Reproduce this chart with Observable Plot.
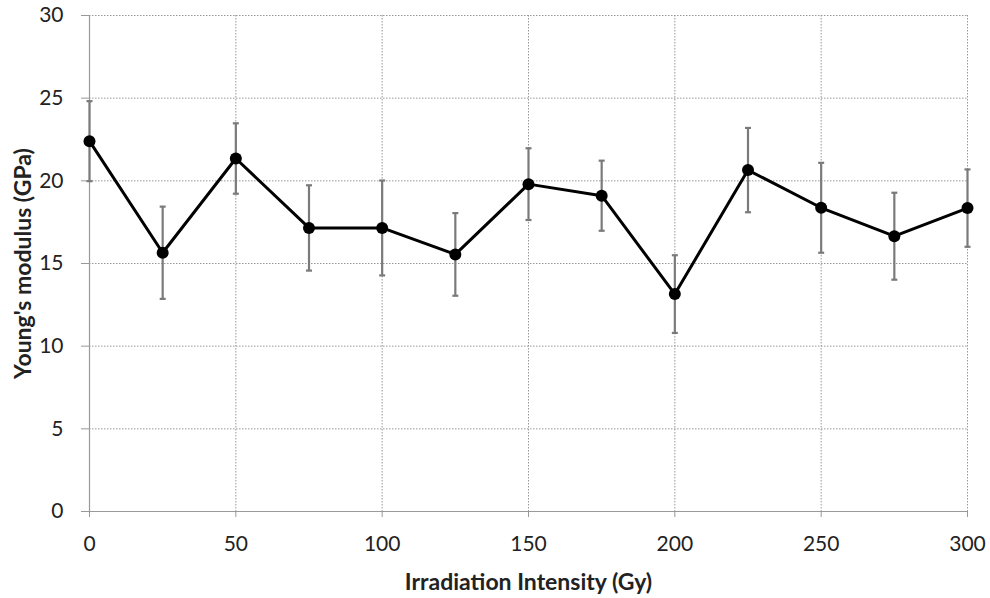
<!DOCTYPE html>
<html>
<head>
<meta charset="utf-8">
<script src="https://cdn.jsdelivr.net/npm/d3@7"></script>
<script src="https://cdn.jsdelivr.net/npm/@observablehq/plot@0.6"></script>
<style>
  html, body { margin: 0; padding: 0; background: #fff; }
  #chart { width: 990px; height: 598px; }
</style>
</head>
<body>
<div id="chart"></div>
<script>
const intensity = [0, 25, 50, 75, 100, 125, 150, 175, 200, 225, 250, 275, 300];
const modulus   = [22.4, 15.65, 21.35, 17.15, 17.15, 15.55, 19.8, 19.1, 13.15, 20.65, 18.37, 16.65, 18.35];
const stdErr    = [2.42, 2.79, 2.13, 2.58, 2.87, 2.5, 2.17, 2.12, 2.35, 2.55, 2.72, 2.63, 2.34];
const xTicks = [0, 50, 100, 150, 200, 250, 300];
const yTicks = [0, 5, 10, 15, 20, 25, 30];
const xLabel = "Irradiation Intensity (Gy)";
const yLabel = "Young's modulus (GPa)";

const data = intensity.map((x, i) => ({x, y: modulus[i], lo: modulus[i] - stdErr[i], hi: modulus[i] + stdErr[i]}));

const capSymbol = {
  draw(context, size) {
    const r = Math.sqrt(size / Math.PI);
    context.moveTo(-r, 0);
    context.lineTo(r, 0);
  }
};

const font = "Lato, 'Open Sans', sans-serif";

const chart = Plot.plot({
  width: 990,
  height: 598,
  marginLeft: 89,
  marginRight: 23,
  marginTop: 15,
  marginBottom: 87,
  style: {fontFamily: font, fontSize: "21px", color: "#222", background: "#fff"},
  x: {domain: [0, 300], ticks: xTicks, label: null},
  y: {domain: [0, 30], ticks: yTicks, label: null},
  marks: [
    Plot.gridY(yTicks.filter(d => d > 0), {stroke: "#999", strokeOpacity: 1, strokeDasharray: "1.5,1.5"}),
    Plot.gridX(xTicks.filter(d => d > 0), {stroke: "#999", strokeOpacity: 1, strokeDasharray: "1.5,1.5"}),
    Plot.ruleX([0], {stroke: "#999", strokeWidth: 1.2}),
    Plot.ruleY([0], {stroke: "#999", strokeWidth: 1.2}),
    Plot.axisY(yTicks, {tickSize: 8, tickPadding: 18, stroke: "#999", fill: "#222", fontSize: 21, label: null}),
    Plot.axisX(xTicks, {tickSize: 6, tickPadding: 19, stroke: "#999", fill: "#222", fontSize: 21, label: null}),
    Plot.ruleX(data, {x: "x", y1: "lo", y2: "hi", stroke: "#7a7a7a", strokeWidth: 2.2}),
    Plot.dot(data, {x: "x", y: "lo", symbol: capSymbol, r: 3, stroke: "#7a7a7a", strokeWidth: 2.2, fill: "none"}),
    Plot.dot(data, {x: "x", y: "hi", symbol: capSymbol, r: 3, stroke: "#7a7a7a", strokeWidth: 2.2, fill: "none"}),
    Plot.line(data, {x: "x", y: "y", stroke: "#000", strokeWidth: 3}),
    Plot.dot(data, {x: "x", y: "y", r: 6, fill: "#000", stroke: "none"}),
    Plot.text([xLabel], {frameAnchor: "bottom", textAnchor: "middle", lineAnchor: "middle", dy: 71, fontWeight: "bold", fontSize: 23, fill: "#222"}),
    Plot.text([yLabel], {frameAnchor: "left", textAnchor: "middle", lineAnchor: "middle", rotate: -90, dx: -66, fontWeight: "bold", fontSize: 23, fill: "#222"})
  ]
});
document.getElementById("chart").appendChild(chart);
</script>
</body>
</html>
